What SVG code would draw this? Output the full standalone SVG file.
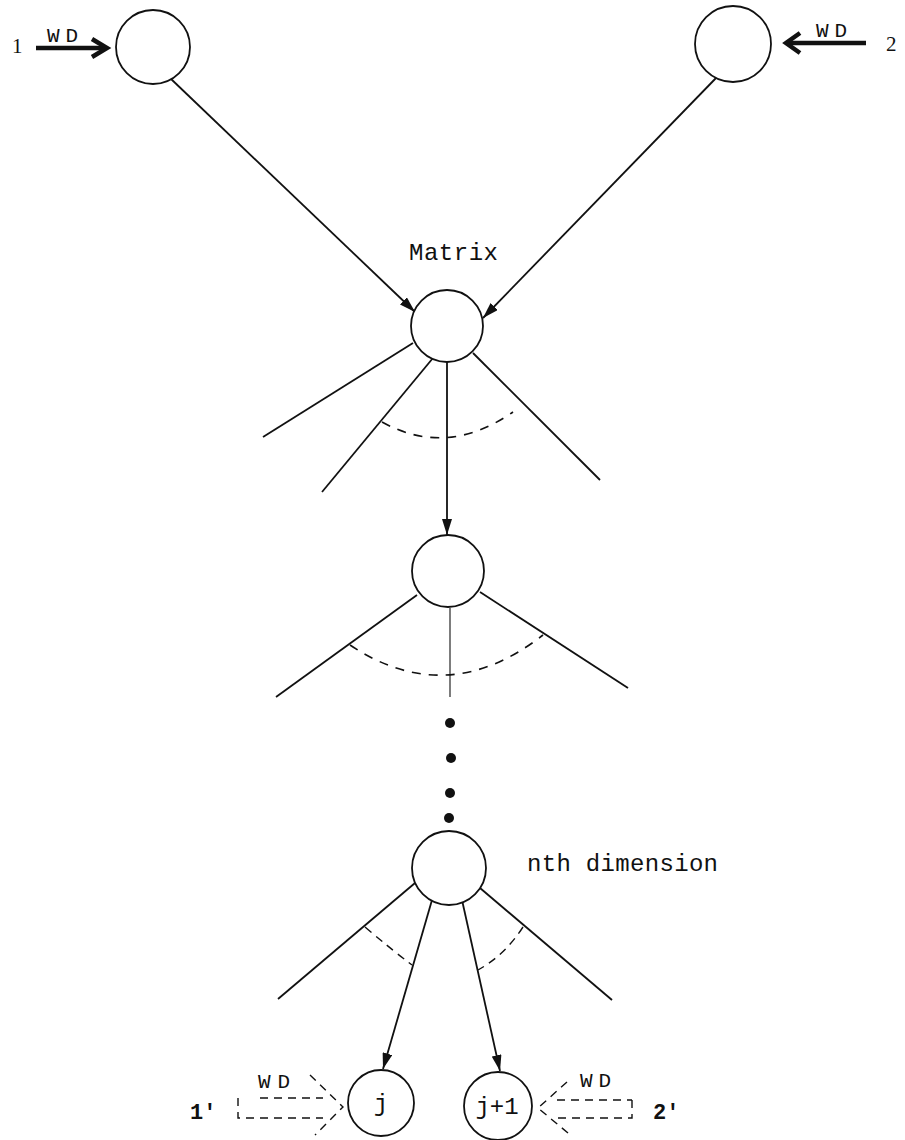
<svg xmlns="http://www.w3.org/2000/svg" width="905" height="1140" viewBox="0 0 905 1140">
<style>
.node{fill:#fff;stroke:#111;stroke-width:1.8}
.ln{stroke:#111;stroke-width:1.8;fill:none}
.thin{stroke:#111;stroke-width:1.1;fill:none}
.dash{stroke:#111;stroke-width:1.6;fill:none;stroke-dasharray:9 8}
.dash2{stroke:#111;stroke-width:1.4;fill:none;stroke-dasharray:8 6}
.thick{stroke:#111;stroke-width:4.5;fill:none;stroke-linecap:butt;stroke-linejoin:miter}
.t{font-family:"Liberation Mono","DejaVu Sans Mono",monospace;fill:#111}
.s{font-family:"Liberation Serif","DejaVu Serif",serif;fill:#111}
</style>
<defs>
<marker id="ah" viewBox="0 0 16 10" refX="16" refY="5" markerWidth="16" markerHeight="10" markerUnits="userSpaceOnUse" orient="auto">
<path d="M0,0 L16,5 L0,10 Z" fill="#111"/>
</marker>
</defs>
<g id="connectors">
<line class="ln" x1="170" y1="78" x2="415" y2="312" marker-end="url(#ah)"/>
<line class="ln" x1="717" y1="77" x2="483" y2="318" marker-end="url(#ah)"/>
<line class="ln" x1="413" y1="343" x2="263" y2="437"/>
<line class="ln" x1="433" y1="358" x2="322" y2="492"/>
<line class="ln" x1="473" y1="353" x2="600" y2="480"/>
<line class="ln" x1="447" y1="362" x2="447" y2="535" marker-end="url(#ah)"/>
<path class="dash" d="M382,422 Q447,458 513,412"/>
<line class="ln" x1="417" y1="595" x2="276" y2="697"/>
<line class="ln" x1="480" y1="592" x2="628" y2="688"/>
<line class="thin" x1="450" y1="608" x2="450" y2="697"/>
<path class="dash" d="M350,645 Q447,710 543,635"/>
<line class="ln" x1="415" y1="883" x2="278" y2="999"/>
<line class="ln" x1="480" y1="888" x2="612" y2="1000"/>
<line class="ln" x1="432" y1="900" x2="383" y2="1069" marker-end="url(#ah)"/>
<line class="ln" x1="462" y1="900" x2="500" y2="1071" marker-end="url(#ah)"/>
<path class="dash2" d="M365,927 Q392,950 412,965"/>
<path class="dash2" d="M523,927 Q505,955 478,970"/>
<polyline class="thick" points="36,48 106,48"/>
<polyline class="thick" points="92,39 107,48 92,57"/>
<polyline class="thick" points="866,43 787,43"/>
<polyline class="thick" points="800,33 786,43 800,53"/>
<path class="dash2" d="M238,1098 L238,1118 L323,1118 M260,1098 L323,1098"/>
<path class="dash2" d="M310,1075 L343,1107 L315,1135"/>
<path class="dash2" d="M632,1100 L632,1118 L557,1118 M557,1100 L632,1100"/>
<path class="dash2" d="M567,1082 L538,1108 L568,1133"/>
</g>
<g id="in1"><text class="s" x="12" y="53" font-size="21">1</text><text class="t" x="47" y="42" font-size="21" textLength="31">WD</text></g>
<g id="in2"><text class="t" x="816" y="37" font-size="21" textLength="31">WD</text><text class="s" x="886" y="51" font-size="21">2</text></g>
<g id="n1"><circle class="node" cx="153" cy="47" r="37"/></g>
<g id="n2"><circle class="node" cx="733" cy="44" r="38"/></g>
<g id="matrix"><text class="t" x="409" y="260" font-size="24" textLength="89">Matrix</text><circle class="node" cx="447" cy="326" r="36"/></g>
<g id="level2"><circle class="node" cx="448" cy="571" r="36"/></g>
<g id="dots">
<circle cx="450" cy="723" r="5" fill="#111"/>
<circle cx="451" cy="758" r="5" fill="#111"/>
<circle cx="450" cy="793" r="5" fill="#111"/>
<circle cx="449" cy="818" r="5" fill="#111"/>
</g>
<g id="nth"><circle class="node" cx="449" cy="868" r="37"/><text class="t" x="527" y="871" font-size="24" textLength="191">nth dimension</text></g>
<g id="j"><circle class="node" cx="381" cy="1103" r="33"/><text class="t" x="381" y="1111" font-size="24" text-anchor="middle">j</text></g>
<g id="j1"><circle class="node" cx="498" cy="1106" r="34"/><text class="t" x="497" y="1114" font-size="24" text-anchor="middle">j+1</text></g>
<g id="out1"><text class="t" x="190" y="1119" font-size="22" font-weight="bold">1'</text><text class="t" x="258" y="1088" font-size="21" textLength="32">WD</text></g>
<g id="out2"><text class="t" x="580" y="1087" font-size="21" textLength="31">WD</text><text class="t" x="653" y="1119" font-size="22" font-weight="bold">2'</text></g>
</svg>
